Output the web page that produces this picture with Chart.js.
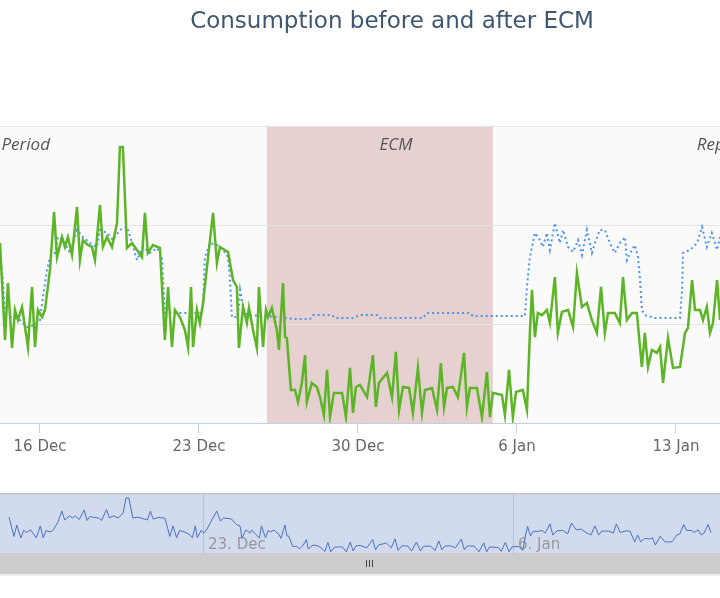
<!DOCTYPE html>
<html>
<head>
<meta charset="utf-8">
<script src="https://cdn.jsdelivr.net/npm/chart.js@4"></script>
<style>
  body { margin: 0; background: #fff; }
  #wrap { position: relative; width: 720px; height: 598px; overflow: hidden; }
  #mainChart { position: absolute; left: 0; top: 0; }
  #navChart { position: absolute; left: 0; top: 493px; }
</style>
</head>
<body>
<div id="wrap">
  <canvas id="mainChart" width="720" height="480"></canvas>
  <canvas id="navChart" width="720" height="84"></canvas>
</div>
<script>
// x values are day numbers counted from 1 Dec (32 = 1 Jan)
const tickDays = [16, 23, 30, 37, 44];
const tickLabels = ['16 Dec', '23 Dec', '30 Dec', '6 Jan', '13 Jan'];
const navTickDays = [23, 37];
const navTickLabels = ['23. Dec', '6. Jan'];

const chartTitle = 'Consumption before and after ECM';
const bandNames = ['Baseline Period', 'ECM', 'Reporting Period'];
const ecmStart = 25.99;
const ecmEnd = 35.94;

// actual consumption (green)
const consumptionDays = [
  14.24, 14.46, 14.59, 14.77, 14.90, 15.03, 15.21, 15.34, 15.47, 15.65, 15.78, 15.91,
  16.09, 16.22, 16.44, 16.62, 16.75, 16.97, 17.10, 17.23, 17.41, 17.63, 17.76, 17.89,
  18.11, 18.29, 18.42, 18.64, 18.77, 18.95, 19.17, 19.39, 19.52, 19.65, 19.83, 20.05,
  20.27, 20.49, 20.62, 20.75, 20.97, 21.28, 21.50, 21.64, 21.81, 21.94, 22.16, 22.38,
  22.52, 22.65, 22.74, 22.91, 23.04, 23.18, 23.40, 23.62, 23.79, 23.92, 24.28, 24.50,
  24.67, 24.76, 24.94, 25.11, 25.20, 25.38, 25.55, 25.64, 25.82, 25.95, 26.04, 26.21,
  26.43, 26.52, 26.70, 26.79, 26.87, 27.05, 27.23, 27.36, 27.53, 27.67, 27.75, 27.97,
  28.19, 28.33, 28.50, 28.64, 28.77, 28.94, 29.30, 29.47, 29.65, 29.78, 29.91, 30.09,
  30.40, 30.66, 30.79, 30.92, 31.28, 31.50, 31.67, 31.81, 31.98, 32.25, 32.42, 32.64,
  32.82, 32.95, 33.26, 33.48, 33.65, 33.79, 33.92, 34.18, 34.40, 34.67, 34.80, 34.93,
  35.24, 35.46, 35.68, 35.81, 35.94, 36.34, 36.47, 36.65, 36.82, 36.96, 37.26, 37.44,
  37.57, 37.66, 37.79, 37.92, 38.10, 38.32, 38.45, 38.67, 38.80, 38.98, 39.25, 39.47,
  39.64, 39.86, 40.08, 40.30, 40.52, 40.70, 40.87, 41.01, 41.31, 41.53, 41.67, 41.84,
  42.06, 42.28, 42.50, 42.63, 42.77, 42.94, 43.16, 43.30, 43.43, 43.65, 43.87, 44.18,
  44.40, 44.53, 44.71, 44.84, 45.06, 45.19, 45.36, 45.50, 45.63, 45.81, 45.94
];
const consumptionValues = [
  90.9, 41.9, 70.7, 37.9, 57.1, 52.0, 58.6, 48.5, 38.4, 68.7, 38.4, 57.1,
  53.5, 57.1, 77.3, 106.6, 83.8, 93.9, 88.9, 93.9, 84.8, 109.1, 82.3, 92.4,
  89.9, 88.9, 82.3, 110.1, 88.9, 93.9, 88.9, 101.0, 139.4, 139.4, 88.4, 90.9,
  87.4, 83.8, 106.1, 85.9, 89.9, 88.4, 41.9, 68.7, 38.4, 57.1, 53.5, 47.0,
  38.4, 68.7, 38.4, 57.1, 50.5, 60.6, 83.8, 106.1, 80.8, 88.9, 86.4, 72.2,
  68.7, 37.9, 58.6, 50.5, 58.1, 47.0, 37.9, 68.7, 38.4, 57.1, 53.5, 58.1,
  47.0, 36.9, 70.7, 43.4, 42.9, 16.7, 16.7, 10.6, 20.2, 34.3, 10.6, 20.2,
  18.2, 13.1, 4.0, 26.8, 3.0, 15.2, 15.2, 3.0, 27.8, 5.1, 18.2, 19.2,
  13.1, 34.3, 8.1, 20.2, 25.3, 13.1, 35.9, 6.6, 18.2, 17.7, 5.1, 27.8,
  5.1, 16.7, 17.7, 6.6, 30.3, 8.1, 17.7, 18.2, 13.1, 35.4, 8.1, 17.7,
  17.7, 3.0, 25.8, 3.0, 15.2, 14.1, 4.0, 26.8, 3.0, 15.7, 16.7, 6.6,
  45.5, 67.2, 43.4, 55.6, 54.5, 57.1, 50.5, 73.7, 45.5, 56.1, 57.1, 48.5,
  75.8, 58.6, 60.6, 52.0, 45.5, 68.7, 45.5, 55.6, 55.6, 50.5, 73.7, 52.0,
  55.6, 55.6, 28.3, 45.5, 28.3, 36.9, 35.4, 38.4, 20.2, 42.9, 27.8, 28.3,
  45.5, 48.0, 72.2, 57.1, 57.1, 52.0, 58.6, 45.5, 50.5, 72.2, 52.0
];

// baseline model (blue dotted)
const baselineDays = [
  14.24, 14.37, 14.46, 14.81, 15.12, 15.43, 15.78, 16.00, 16.13, 16.31, 16.44, 16.66,
  16.79, 17.01, 17.32, 17.63, 17.89, 18.20, 18.51, 18.64, 18.95, 19.21, 19.52, 19.83,
  20.05, 20.27, 20.53, 20.84, 21.15, 21.37, 21.42, 21.50, 22.16, 23.13, 23.18, 23.26,
  23.48, 23.79, 24.06, 24.28, 24.36, 24.45, 24.72, 24.81, 24.94, 25.11, 26.57, 27.14,
  27.89, 28.02, 28.86, 28.99, 29.78, 30.09, 30.84, 30.97, 32.86, 33.04, 34.93, 35.06,
  37.35, 37.44, 37.57, 37.79, 38.01, 38.14, 38.32, 38.45, 38.67, 38.89, 39.03, 39.25,
  39.47, 39.69, 39.86, 40.08, 40.30, 40.43, 40.65, 40.87, 41.09, 41.31, 41.53, 41.76,
  41.84, 42.06, 42.19, 42.33, 42.42, 42.50, 42.63, 43.08, 44.18, 44.27, 44.31, 44.62,
  44.93, 45.15, 45.36, 45.58, 45.81, 45.94
];
const baselineValues = [
  83.8, 72.2, 53.5, 53.5, 52.0, 48.5, 49.5, 52.0, 63.6, 77.3, 83.8, 85.9,
  93.9, 92.4, 85.9, 97.5, 93.9, 90.9, 88.9, 97.5, 96.0, 92.4, 97.5, 99.0,
  90.9, 82.3, 88.9, 85.9, 88.4, 83.8, 72.2, 55.6, 55.6, 55.6, 60.6, 83.8,
  90.9, 89.9, 87.4, 83.8, 73.7, 53.5, 53.5, 67.2, 58.6, 54.5, 53.5, 52.5,
  52.5, 54.5, 54.5, 53.0, 53.0, 54.5, 54.5, 53.0, 53.0, 55.6, 55.6, 54.0,
  54.0, 68.7, 83.8, 96.0, 92.4, 88.9, 96.0, 87.4, 101.0, 90.9, 97.5, 88.9,
  86.4, 92.4, 84.8, 97.5, 85.9, 90.9, 97.5, 97.5, 90.9, 85.9, 90.9, 93.9,
  82.3, 87.4, 89.9, 83.8, 72.2, 57.1, 54.5, 53.0, 53.0, 67.2, 85.9, 87.4,
  90.9, 99.0, 88.9, 96.0, 87.4, 93.9
];

const toPoints = (xs, ys) => xs.map((x, i) => ({ x: x, y: ys[i] }));

// plot background, ECM band, band labels and the (off-centre) title
const plotBands = {
  id: 'plotBands',
  beforeDraw(chart) {
    const ctx = chart.ctx;
    const area = chart.chartArea;
    const xs = chart.scales.x;
    ctx.save();
    ctx.fillStyle = '#fafafa';
    ctx.fillRect(area.left, area.top, area.right - area.left, area.bottom - area.top);
    const x1 = xs.getPixelForValue(ecmStart);
    const x2 = xs.getPixelForValue(ecmEnd);
    ctx.fillStyle = '#e7d0d0';
    ctx.fillRect(x1, area.top, x2 - x1, area.bottom - area.top);
    ctx.restore();
  },
  afterDatasetsDraw(chart) {
    const ctx = chart.ctx;
    const area = chart.chartArea;
    const xs = chart.scales.x;
    ctx.save();
    ctx.font = 'italic 17px "Open Sans", sans-serif';
    ctx.fillStyle = '#555555';
    ctx.textBaseline = 'alphabetic';
    const y = area.top + 24;
    ctx.textAlign = 'right';
    ctx.fillText(bandNames[0], xs.getPixelForValue(16.44), y);
    ctx.textAlign = 'center';
    ctx.fillText(bandNames[1], xs.getPixelForValue(31.67), y);
    ctx.textAlign = 'left';
    ctx.fillText(bandNames[2], xs.getPixelForValue(44.92), y);

    ctx.font = '23px "DejaVu Sans", sans-serif';
    ctx.fillStyle = '#3e576f';
    ctx.textAlign = 'center';
    ctx.textBaseline = 'middle';
    ctx.fillText(chartTitle, 392, 22);
    ctx.restore();
  }
};

new Chart(document.getElementById('mainChart').getContext('2d'), {
  type: 'line',
  data: {
    datasets: [{
      label: 'Consumption',
      data: toPoints(consumptionDays, consumptionValues),
      borderColor: '#5cb526',
      borderWidth: 2.5,
      pointRadius: 0,
      tension: 0
    }, {
      label: 'Baseline',
      data: toPoints(baselineDays, baselineValues),
      borderColor: '#4d94ee',
      borderWidth: 2,
      borderDash: [2, 3],
      pointRadius: 0,
      tension: 0
    }]
  },
  options: {
    responsive: false,
    animation: false,
    layout: { padding: { top: 126, left: 0, right: 0, bottom: 0 } },
    plugins: {
      legend: { display: false },
      tooltip: { enabled: false },
      title: { display: false }
    },
    scales: {
      x: {
        type: 'linear',
        min: 14.24,
        max: 45.94,
        afterBuildTicks(scale) {
          scale.ticks = tickDays.map(v => ({ value: v }));
        },
        afterFit(scale) { scale.height = 57; },
        ticks: {
          autoSkip: false,
          maxRotation: 0,
          padding: 5,
          color: '#666666',
          font: { family: '"DejaVu Sans", sans-serif', size: 15 },
          callback: v => tickLabels[tickDays.indexOf(v)]
        },
        grid: { drawOnChartArea: false, drawTicks: true, tickLength: 10, color: '#c0d0e0' },
        border: { color: '#c0d0e0', width: 1 }
      },
      y: {
        min: 0,
        max: 150,
        afterFit(scale) { scale.width = 0; },
        ticks: { stepSize: 50, display: false },
        grid: { color: '#e4e4e4', drawTicks: false },
        border: { display: false }
      }
    }
  },
  plugins: [plotBands]
});

// navigator background, grid, labels and scrollbar
const navigatorDecor = {
  id: 'navigatorDecor',
  beforeDraw(chart) {
    const ctx = chart.ctx;
    const area = chart.chartArea;
    const xs = chart.scales.x;
    ctx.save();
    ctx.fillStyle = '#d2daed';
    ctx.fillRect(0, area.top, chart.width, area.bottom - area.top);
    ctx.strokeStyle = '#b8bfcf';
    ctx.lineWidth = 1;
    navTickDays.forEach(d => {
      const px = Math.round(xs.getPixelForValue(d)) + 0.5;
      ctx.beginPath();
      ctx.moveTo(px, area.top);
      ctx.lineTo(px, area.bottom);
      ctx.stroke();
    });
    ctx.fillStyle = 'rgba(130,130,130,0.75)';
    ctx.font = '15px "DejaVu Sans", sans-serif';
    ctx.textAlign = 'left';
    ctx.textBaseline = 'alphabetic';
    navTickDays.forEach((d, i) => {
      ctx.fillText(navTickLabels[i], xs.getPixelForValue(d) + 5, area.bottom - 4);
    });
    ctx.restore();
  },
  afterDraw(chart) {
    const ctx = chart.ctx;
    const area = chart.chartArea;
    ctx.save();
    ctx.strokeStyle = '#c4c0c4';
    ctx.lineWidth = 1.5;
    ctx.beginPath();
    ctx.moveTo(0, area.top + 0.5);
    ctx.lineTo(chart.width, area.top + 0.5);
    ctx.stroke();
    // scrollbar
    ctx.fillStyle = '#cccccc';
    ctx.fillRect(0, area.bottom, chart.width, 21);
    ctx.fillStyle = '#eeeeee';
    ctx.fillRect(0, area.bottom + 21, chart.width, 2);
    ctx.strokeStyle = '#444444';
    ctx.lineWidth = 1;
    [366, 369, 372].forEach(px => {
      ctx.beginPath();
      ctx.moveTo(px + 0.5, area.bottom + 7);
      ctx.lineTo(px + 0.5, area.bottom + 14);
      ctx.stroke();
    });
    ctx.restore();
  }
};

new Chart(document.getElementById('navChart').getContext('2d'), {
  type: 'line',
  data: {
    datasets: [{
      data: toPoints(consumptionDays, consumptionValues),
      borderColor: '#4a72c4',
      borderWidth: 1,
      pointRadius: 0,
      tension: 0
    }]
  },
  options: {
    responsive: false,
    animation: false,
    layout: { padding: { top: 0, bottom: 24, left: 0, right: 0 } },
    plugins: { legend: { display: false }, tooltip: { enabled: false } },
    scales: {
      x: { type: 'linear', min: 13.83, max: 46.35, display: false },
      y: { min: 0, max: 152, display: false }
    }
  },
  plugins: [navigatorDecor]
});
</script>
</body>
</html>
